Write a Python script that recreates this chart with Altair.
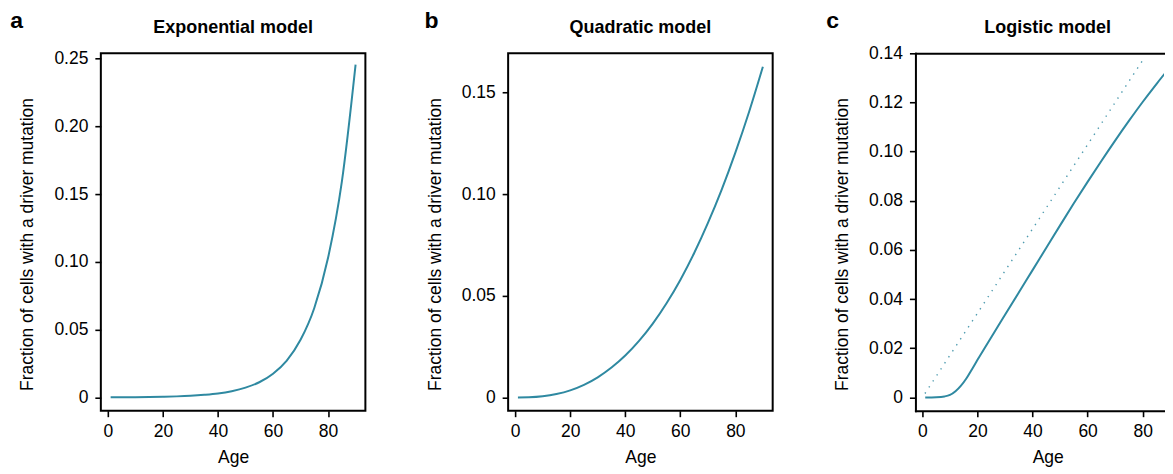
import altair as alt
import pandas as pd

# ---- data ----
ages_exp = [1, 5, 10, 15, 20, 25, 30, 35, 40, 45, 50, 55, 60, 65, 70, 75, 80, 85, 90]
frac_exp = [0.00008, 0.0001, 0.0002, 0.0003, 0.0005, 0.00077, 0.0012, 0.0019, 0.0029,
            0.0046, 0.0072, 0.0112, 0.0175, 0.0272, 0.0425, 0.066, 0.103, 0.159, 0.2456]

ages_quad = [1, 5, 10, 15, 20, 25, 30, 35, 40, 45, 50, 55, 60, 65, 70, 75, 80, 85, 90]
frac_quad = [0.0, 0.0001, 0.0006, 0.0017, 0.0035, 0.0062, 0.0099, 0.0147, 0.0206,
             0.0278, 0.0363, 0.0463, 0.0578, 0.0709, 0.0857, 0.1021, 0.1204, 0.1405, 0.1626]

ages_log = [1, 5, 8, 10, 12, 14, 16, 18, 20, 25, 30, 35, 40, 45, 50, 55, 60, 65, 70, 75, 80, 85, 90]
frac_log = [0.0, 0.0001, 0.0004, 0.001, 0.0025, 0.0048, 0.0078, 0.0115, 0.0153, 0.0245,
            0.0336, 0.0427, 0.0518, 0.0609, 0.0700, 0.0790, 0.0877, 0.0962, 0.1045,
            0.1125, 0.1202, 0.1275, 0.1345]

ages_lin = [0.9, 80.5]
frac_lin = [0.0016, 0.138]

x_ticks = [0, 20, 40, 60, 80]
yticks_a = [0, 0.05, 0.10, 0.15, 0.20, 0.25]
yticks_b = [0, 0.05, 0.10, 0.15]
yticks_c = [0, 0.02, 0.04, 0.06, 0.08, 0.10, 0.12, 0.14]

titles = ["Exponential model", "Quadratic model", "Logistic model"]
letters = ["a", "b", "c"]

# ---- layout / style ----
W, H = 265, 358
XMIN, XMAX = -2.56, 93.56
PX_PER_UNIT = W / (XMAX - XMIN)
WC = 249                                   # panel c is cut by the page edge
XMAX_C = XMIN + WC / PX_PER_UNIT
TEAL = "#2f89a1"
FONT = "Liberation Sans"
YTITLE = "Fraction of cells with a driver mutation"


def panel(ages, fracs, ydom, yticks, letter, title, letter_dx, extra=None, open_right=False):
    w = WC if open_right else W
    xdom = [XMIN, XMAX_C] if open_right else [XMIN, XMAX]
    df = pd.DataFrame({"age": ages, "frac": fracs})
    xscale = alt.Scale(domain=xdom, nice=False, zero=False)
    x = alt.X("age:Q", scale=xscale,
              axis=alt.Axis(values=x_ticks, title="Age", labelPadding=6,
                            titleY=52, titleBaseline="alphabetic", titleX=W / 2,
                            domain=open_right))
    y = alt.Y("frac:Q",
              scale=alt.Scale(domain=ydom, nice=False, zero=False),
              axis=alt.Axis(values=yticks, title=YTITLE, labelPadding=7,
                            labelExpr="datum.value == 0 ? '0' : format(datum.value, '.2f')",
                            titleX=-68, titleY=191, titleBaseline="alphabetic", titleAngle=270,
                            titleAlign="center", domain=open_right))
    line = alt.Chart(df).mark_line(color=TEAL, strokeWidth=2, interpolate="monotone",
                                   clip=True).encode(x=x, y=y)
    layers = [line]
    if extra is not None:
        dfl = pd.DataFrame({"age": extra[0], "frac": extra[1]})
        dots = alt.Chart(dfl).mark_line(color=TEAL, strokeWidth=1.4, strokeDash=[1.4, 5.8],
                                        opacity=0.85, clip=True).encode(x=x, y=y)
        layers.append(dots)
    lab = alt.Chart(pd.DataFrame({"t": [letter]})).mark_text(
        align="left", baseline="alphabetic", fontSize=23, fontWeight="bold", font=FONT,
        color="black").encode(text="t:N", x=alt.value(letter_dx), y=alt.value(-25))
    ttl = alt.Chart(pd.DataFrame({"t": [title]})).mark_text(
        align="center", baseline="alphabetic", fontSize=18, fontWeight="bold", font=FONT,
        color="black").encode(text="t:N", x=alt.value(W / 2), y=alt.value(-20))
    layers += [lab, ttl]
    main = alt.layer(*layers)
    if open_right:
        top = alt.Chart(df).mark_line(opacity=0, clip=True).encode(
            x=alt.X("age:Q", scale=xscale,
                    axis=alt.Axis(orient="top", labels=False, ticks=False, title="",
                                  domain=True)),
            y=alt.Y("frac:Q", scale=alt.Scale(domain=ydom, nice=False, zero=False)))
        ch = alt.layer(main, top).resolve_axis(x="independent", y="shared").properties(
            width=w, height=H, view=alt.ViewBackground(stroke="transparent"))
    else:
        ch = main.properties(width=w, height=H)
    return ch


pa = panel(ages_exp, frac_exp, [-0.0098, 0.2539], yticks_a, letters[0], titles[0], -90.7)
pb = panel(ages_quad, frac_quad, [-0.0065, 0.1692], yticks_b, letters[1], titles[1], -83.7)
pc = panel(ages_log, frac_log, [-0.0054, 0.14], yticks_c, letters[2], titles[2], -89.3,
           extra=(ages_lin, frac_lin), open_right=True)

chart = alt.hconcat(pa, pb, pc, spacing=143, bounds="flush").properties(
    padding={"left": 1, "top": 1, "right": 0, "bottom": 0}
).configure_view(
    stroke="black", strokeWidth=2
).configure_axis(
    grid=False, tickColor="black", tickWidth=1.6, tickSize=6,
    domainColor="black", domainWidth=2, domainCap="square",
    labelFont=FONT, labelFontSize=17.5, labelColor="black",
    titleFont=FONT, titleFontSize=17.5, titleFontWeight="normal", titleColor="black"
)

chart.save("out.html", embed_options={"renderer": "svg", "actions": False})
